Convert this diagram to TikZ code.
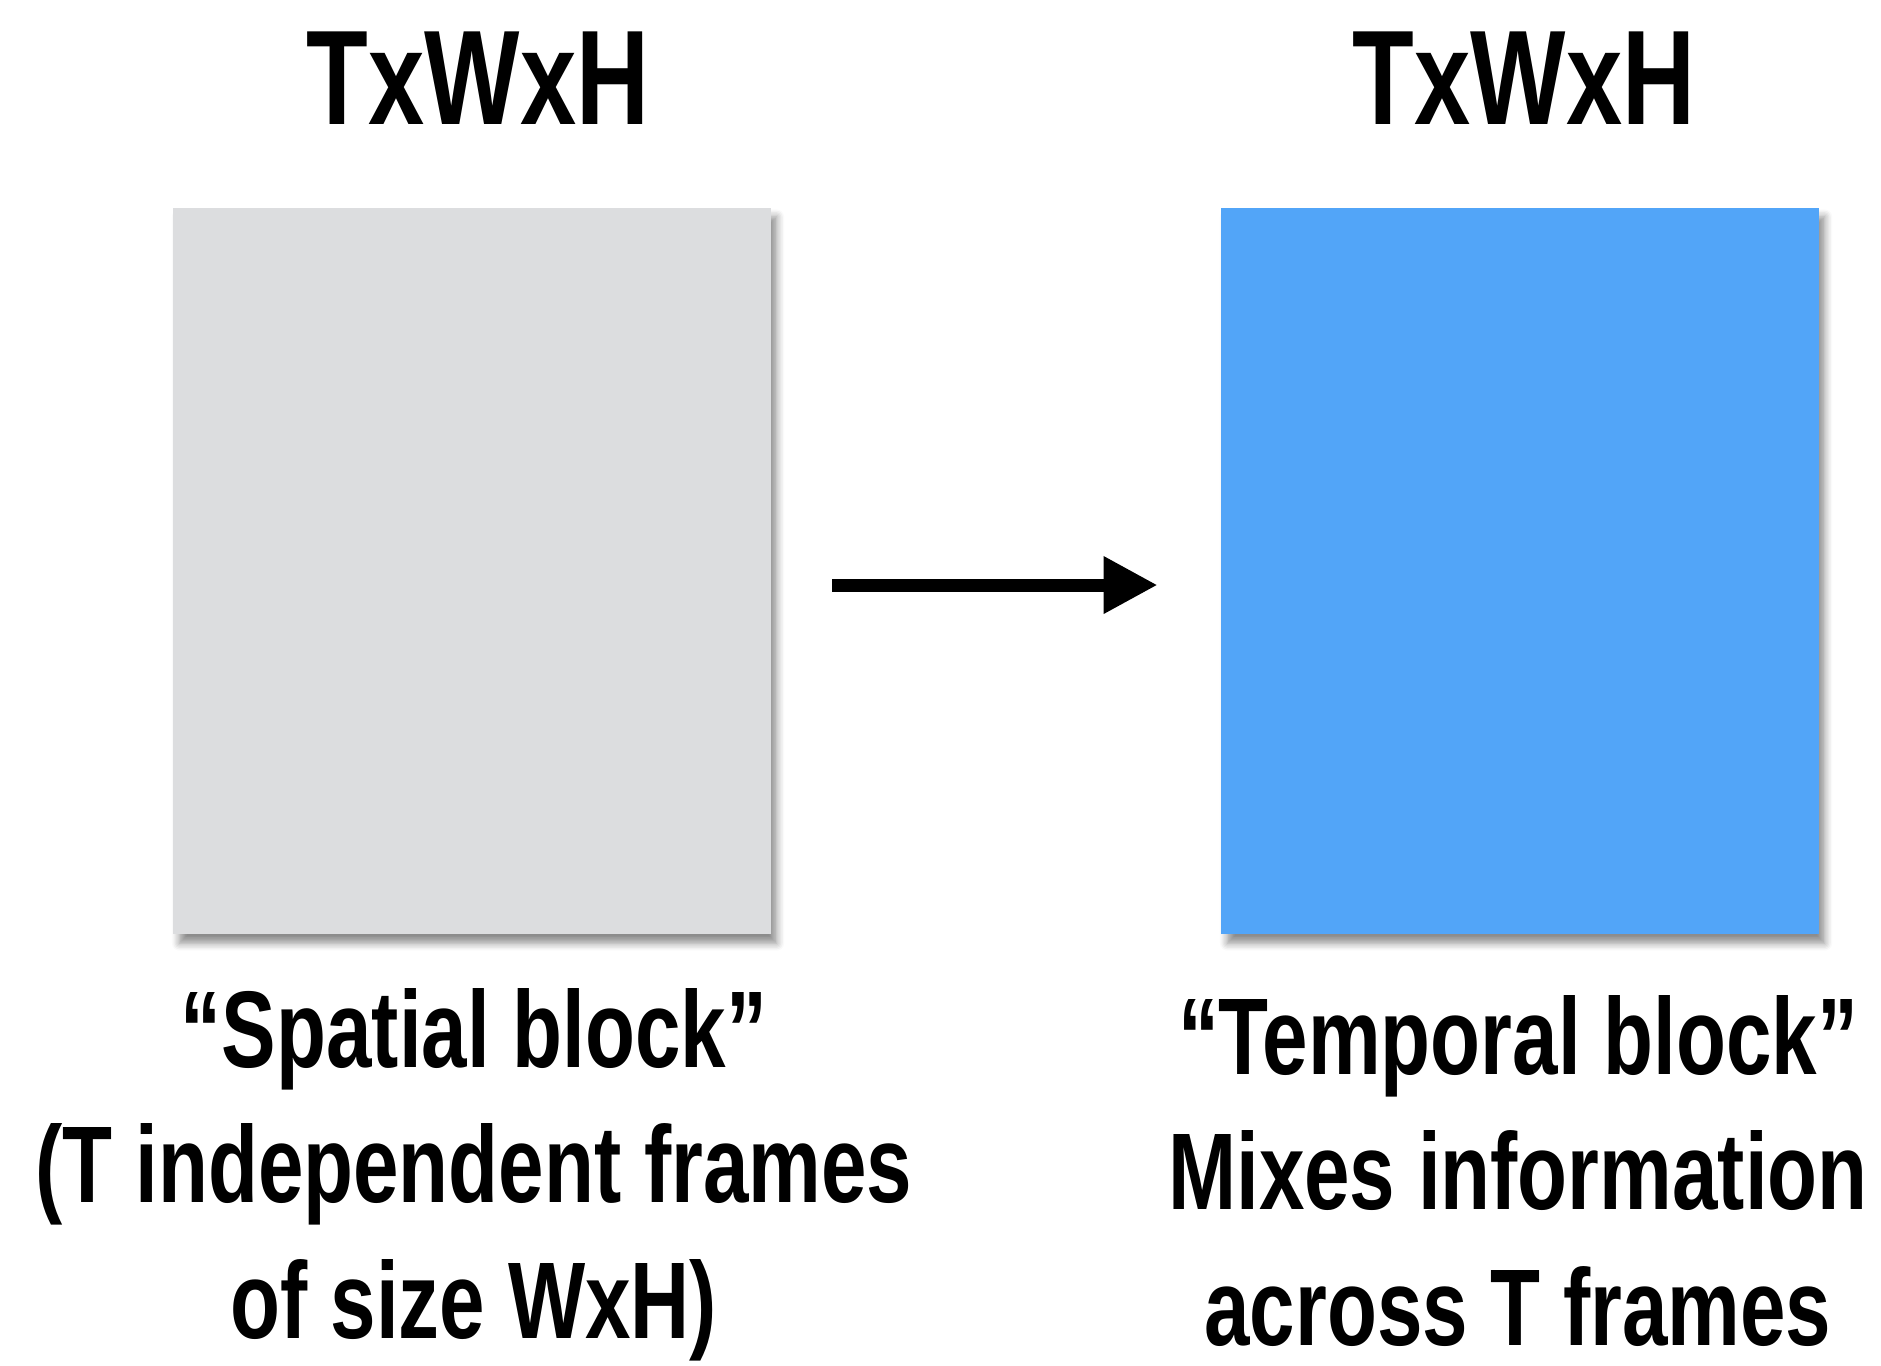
\documentclass[tikz,border=0pt]{standalone}
\usepackage{fontspec}
\setmainfont{Liberation Sans}[FakeStretch=0.75]
\usetikzlibrary{arrows.meta,shadows.blur}
\definecolor{blockgray}{HTML}{DCDDDF}
\definecolor{blockblue}{HTML}{52A5F8}

\begin{document}
\begin{tikzpicture}[
  x=0.01cm, y=-0.01cm,
  block/.style={inner sep=0pt, minimum width=5.97cm, minimum height=7.26cm,
                blur shadow={shadow xshift=0.6mm, shadow yshift=-0.9mm,
                             shadow blur steps=6, shadow opacity=45}},
  dimtitle/.style={anchor=base, inner sep=0pt, font=\fontsize{38.3}{46}\selectfont\bfseries},
  caption/.style={anchor=base, inner sep=0pt, align=center,
                  font=\fontsize{31}{38.4}\selectfont\bfseries},
  flow/.style={-{Triangle[length=0.54cm, width=0.54cm]}, line width=0.13cm}
]
\useasboundingbox (0,0) rectangle (1881,1365);

\def\xl{472} \def\xr{1520}

\node[block, fill=blockgray] (spatial) at (\xl,571) {};
\node[block, fill=blockblue] (temporal) at (\xr,571) {};

\node[dimtitle] (spatialdim) at (478,124) {TxWxH};
\node[dimtitle] (temporaldim) at (1524,124) {TxWxH};

\node[caption] (spatialtext) at (474,1338)
  {“Spatial block”\\(T independent frames\\of size WxH)};
\node[caption] (temporaltext) at (1518,1345)
  {“Temporal block”\\Mixes information\\across T frames};

\draw[flow] ([yshift=-0.14cm]spatial.east) ++(61,0) coordinate (arrowstart)
  -- ([yshift=-0.14cm, xshift=-0.63cm]temporal.west);

\end{tikzpicture}
\end{document}
